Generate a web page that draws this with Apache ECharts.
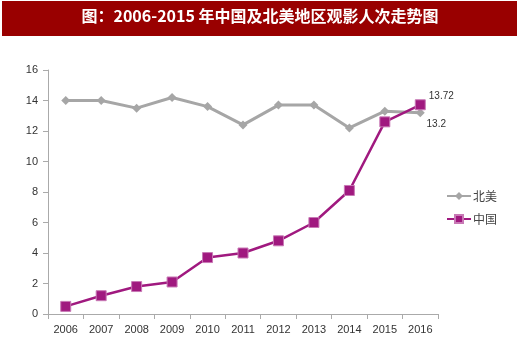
<!DOCTYPE html>
<html><head><meta charset="utf-8">
<script src="https://cdn.jsdelivr.net/npm/echarts@6/dist/echarts.min.js"></script>
<style>html,body{margin:0;padding:0;background:#fff}#c{width:520px;height:359px}</style>
</head><body><div id="c"></div>
<script>
const titleText = '图：2006-2015 年中国及北美地区观影人次走势图';
const categories = ['2006','2007','2008','2009','2010','2011','2012','2013','2014','2015','2016'];
const northAmerica = [14, 14, 13.5, 14.2, 13.6, 12.4, 13.7, 13.7, 12.2, 13.3, 13.2];
const china = [0.5, 1.2, 1.8, 2.1, 3.7, 4.0, 4.8, 6.0, 8.1, 12.6, 13.72];
const seriesNames = ['北美', '中国'];
const yTicks = [0, 2, 4, 6, 8, 10, 12, 14, 16];

const chart = echarts.init(document.getElementById('c'), null, {renderer: 'canvas'});
const lastLabel = (arr, pos) => ({
  show: true, position: pos, fontSize: 10, color: '#333',
  fontFamily: 'Liberation Sans, Arial',
  formatter: p => p.dataIndex === arr.length - 1 ? String(arr[arr.length - 1]) : ''
});
chart.setOption({
  animation: false,
  graphic: [
    {type: 'rect', shape: {x: 2, y: 1, width: 515, height: 35}, style: {fill: '#990000'}},
    {type: 'text', left: 'center', top: 8, style: {text: titleText, fill: '#fff', font: 'bold 16px "Noto Sans CJK SC"'}}
  ],
  grid: {left: 48, right: 82, top: 70, bottom: 45},
  legend: {
    orient: 'vertical', left: 441, top: 185, itemGap: 11, itemWidth: 24, itemHeight: 10,
    textStyle: {fontSize: 12, color: '#444', fontFamily: 'Noto Sans CJK SC', padding: [0, 0, 0, -3]},
    data: seriesNames
  },
  xAxis: {
    type: 'category', data: categories, boundaryGap: true,
    axisLine: {lineStyle: {color: '#aaa'}},
    axisTick: {show: true, length: 5, lineStyle: {color: '#aaa'}},
    axisLabel: {color: '#333', fontSize: 11, margin: 10, fontFamily: 'Liberation Sans, Arial'}
  },
  yAxis: {
    type: 'value', min: yTicks[0], max: yTicks[yTicks.length - 1], interval: 2,
    axisLine: {show: true, lineStyle: {color: '#aaa'}},
    axisTick: {show: true, length: 5, lineStyle: {color: '#aaa'}},
    splitLine: {show: false},
    axisLabel: {color: '#333', fontSize: 11, margin: 10, fontFamily: 'Liberation Sans, Arial'}
  },
  series: [
    {
      name: seriesNames[0], type: 'line', data: northAmerica,
      symbol: 'diamond', symbolSize: 9,
      lineStyle: {color: '#a6a6a6', width: 3},
      itemStyle: {color: '#a6a6a6'},
      label: lastLabel(northAmerica, 'bottom'),
      labelLayout: {dx: 16, dy: -3}
    },
    {
      name: seriesNames[1], type: 'line', data: china,
      symbol: 'rect', symbolSize: 10,
      lineStyle: {color: '#a0197f', width: 2.5},
      itemStyle: {color: '#a0197f', borderColor: '#c879b5', borderWidth: 1},
      label: lastLabel(china, 'top'),
      labelLayout: {dx: 21, dy: 7},
      z: 3
    }
  ]
});
</script></body></html>
